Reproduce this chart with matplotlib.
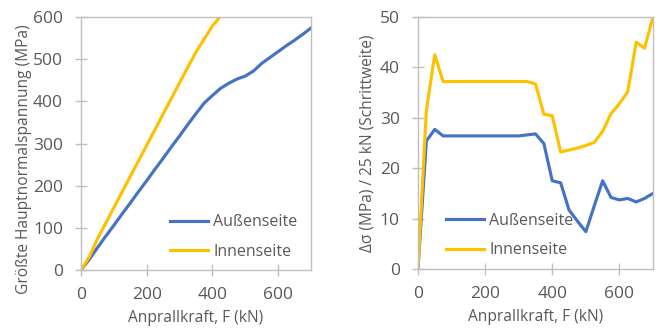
import matplotlib
import matplotlib.pyplot as plt

matplotlib.use("Agg")

# Anprallkraft in 25-kN-Schritten
force = [0, 25, 50, 75, 100, 125, 150, 175, 200, 225, 250, 275, 300, 325,
         350, 375, 400, 425, 450, 475, 500, 525, 550, 575, 600, 625, 650,
         675, 700]

# linkes Diagramm: größte Hauptnormalspannung (MPa)
stress_outer = [0, 25, 53, 80, 106, 133, 159, 186, 212, 239, 265, 292, 318,
                345, 371, 396, 414, 431, 443, 453, 460, 472, 490, 504, 518,
                532, 545, 559, 574]
stress_inner = [0, 31, 74, 111, 148, 185, 222, 259, 296, 333, 370, 407, 444,
                481, 517, 548, 579, 602]

# rechtes Diagramm: Spannungszuwachs pro Schritt (MPa / 25 kN)
delta_outer = [0, 25.4, 27.7, 26.4, 26.4, 26.4, 26.4, 26.4, 26.4, 26.4, 26.4,
               26.4, 26.4, 26.6, 26.8, 24.9, 17.5, 17.1, 11.7, 9.5, 7.4, 12.5,
               17.5, 14.2, 13.7, 14.0, 13.3, 14.0, 15.0]
delta_inner = [0, 31.5, 42.5, 37.2, 37.2, 37.2, 37.2, 37.2, 37.2, 37.2, 37.2,
               37.2, 37.2, 37.2, 36.7, 30.7, 30.4, 23.2, 23.6, 24.0, 24.5,
               25.1, 27.3, 30.8, 32.8, 35.2, 45.0, 43.8, 50.0]

labels = ["Außenseite", "Innenseite"]
BLUE = "#4472C4"
YELLOW = "#FFC000"
TEXT = "#595959"
AXIS = "#BFBFBF"

plt.rcParams["font.family"] = ["Open Sans", "DejaVu Sans"]
plt.rcParams["font.size"] = 11


def style_axes(ax, xlabel, ylabel, ypad):
    for sp in ax.spines.values():
        sp.set_color(AXIS)
        sp.set_linewidth(1.0)
    ax.tick_params(direction="inout", length=8, width=1, color=AXIS,
                   labelcolor=TEXT, labelsize=12.5)
    ax.tick_params(axis="y", pad=9)
    ax.tick_params(axis="x", pad=8)
    ax.set_xlabel(xlabel, color=TEXT, fontsize=11.2, labelpad=5)
    ax.set_ylabel(ylabel, color=TEXT, fontsize=11.2, labelpad=ypad)


fig = plt.figure(figsize=(6.68, 3.29), dpi=100)
ax1 = fig.add_axes([0.1213, 0.1793, 0.3443, 0.769])
ax2 = fig.add_axes([0.6257, 0.1824, 0.3518, 0.766])

ax1.plot(force, stress_outer, color=BLUE, lw=2.25, label=labels[0])
ax1.plot(force[:len(stress_inner)], stress_inner, color=YELLOW, lw=2.25,
         label=labels[1])
ax1.set_xlim(0, 700)
ax1.set_ylim(0, 600)
ax1.set_xticks([0, 200, 400, 600])
ax1.set_yticks(range(0, 601, 100))
style_axes(ax1, "Anprallkraft, F (kN)", "Größte Hauptnormalspannung (MPa)", 1)
ax1.yaxis.label.set_y(0.44)
leg1 = ax1.legend(loc="center left", bbox_to_anchor=(0.387, 0.13),
                  frameon=False, borderpad=0, borderaxespad=0,
                  handlelength=2.4, handletextpad=0.3, labelspacing=0.85,
                  fontsize=11.5)

ax2.plot(force, delta_outer, color=BLUE, lw=2.25, label=labels[0])
ax2.plot(force, delta_inner, color=YELLOW, lw=2.25, label=labels[1])
ax2.set_xlim(0, 700)
ax2.set_ylim(0, 50)
ax2.set_xticks([0, 200, 400, 600])
ax2.set_yticks(range(0, 51, 10))
style_axes(ax2, "Anprallkraft, F (kN)", "Δσ (MPa) / 25 kN (Schrittweite)", 3)
leg2 = ax2.legend(loc="center left", bbox_to_anchor=(0.119, 0.133),
                  frameon=False, borderpad=0, borderaxespad=0,
                  handlelength=2.4, handletextpad=0.3, labelspacing=0.85,
                  fontsize=11.5)

for leg in (leg1, leg2):
    for t in leg.get_texts():
        t.set_color(TEXT)

fig.savefig("out.png", dpi=100)
plt.close(fig)
